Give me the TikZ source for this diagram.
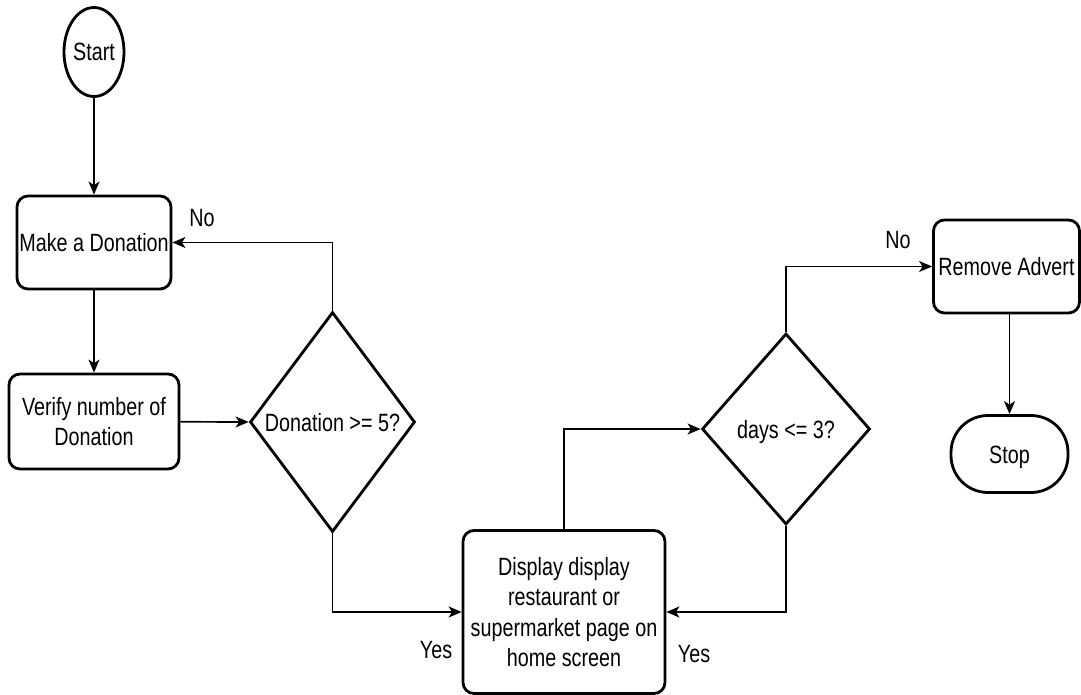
\documentclass[tikz,border=0pt]{standalone}
\usepackage{fontspec}
\setmainfont{Liberation Sans}[FakeStretch=0.79]
\usetikzlibrary{shapes.geometric,arrows.meta}
\begin{document}
\begin{tikzpicture}[x=1pt,y=-1pt,
  font=\fontsize{25}{30.5}\selectfont,
  box/.style={draw,line width=2.8pt,rounded corners=11pt,align=center,inner sep=0pt},
  oneline/.style={text height=18pt,text depth=0pt},
  decision/.style={draw,diamond,line width=2.8pt,inner sep=0pt,aspect=0.75,oneline},
  terminal/.style={draw,ellipse,line width=2.8pt,inner sep=0pt,oneline},
  arr/.style={line width=1.7pt,-{Stealth[length=13pt,width=11pt,inset=3.5pt]}},
  lbl/.style={inner sep=0pt}]
\useasboundingbox (0,0) rectangle (1081,695);

% process steps
\node[terminal,minimum width=60pt,minimum height=89pt] (start) at (94,52) {Start};
\node[box,oneline,minimum width=154pt,minimum height=93pt] (make) at (94,242.5) {Make a Donation};
\node[box,minimum width=170pt,minimum height=95pt] (verify) at (94,421.5) {Verify number of\\Donation};
\node[decision,minimum width=165pt,minimum height=220pt] (d1) at (332.5,422) {Donation >= 5?};
\node[box,minimum width=202pt,minimum height=163pt] (disp) at (564,612) {Display display\\restaurant or\\supermarket page on\\home screen};
\node[decision,minimum width=168pt,minimum height=191pt] (d2) at (786,429) {days <= 3?};
\node[box,oneline,minimum width=146pt,minimum height=93pt] (remove) at (1006.5,266.5) {Remove Advert};
\node[draw,oneline,line width=2.8pt,rounded corners=37pt,minimum width=117pt,minimum height=77pt,inner sep=0pt] (stop) at (1009.5,454) {Stop};

% connectors
\draw[arr] (start) -- (make);
\draw[arr] (make) -- (verify);
\draw[arr] (verify) -- (d1.west);
\draw[arr] (d1.north) |- (make.east);
\draw[arr] (d1.south) |- (disp.west);
\draw[arr] (disp.north) |- (d2.west);
\draw[arr] (d2.north) |- (remove.west);
\draw[arr] (d2.south) |- (disp.east);
\draw[arr] (stop.north |- remove.south) -- (stop.north);

% branch labels
\node[lbl] (no1) at (202,218) {No};
\node[lbl] (yes1) at (436,650) {Yes};
\node[lbl] (no2) at (898,240) {No};
\node[lbl] (yes2) at (694,654) {Yes};
\end{tikzpicture}
\end{document}
